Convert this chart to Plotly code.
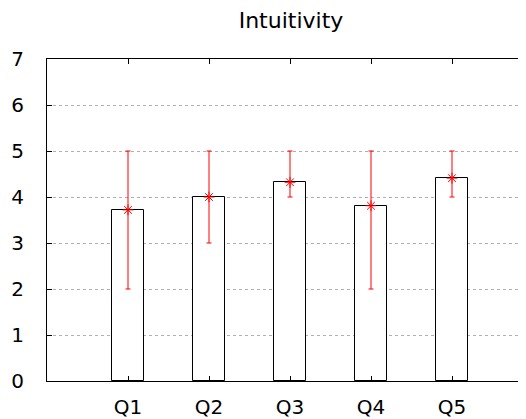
import plotly.graph_objects as go

categories = ["Q1", "Q2", "Q3", "Q4", "Q5"]
positions = [1, 2, 3, 4, 5]
means = [3.72, 4.0, 4.32, 3.81, 4.41]
mins = [2, 3, 4, 2, 4]
maxs = [5, 5, 5, 5, 5]

err_plus = [mx - m for mx, m in zip(maxs, means)]
err_minus = [m - mn for m, mn in zip(means, mins)]

FONT = "DejaVu Sans"
OFF = 8  # default body margin of the page
W, H = 526, 419 - OFF
L = 47 - OFF

fig = go.Figure()
fig.add_trace(go.Bar(
    x=positions, y=means, width=0.4,
    marker=dict(color="white", line=dict(color="black", width=1)),
    showlegend=False, hoverinfo="skip",
))
fig.add_trace(go.Scatter(
    x=positions, y=means, mode="markers",
    marker=dict(symbol="asterisk-open", size=9, color="red", line=dict(color="red", width=1)),
    error_y=dict(type="data", symmetric=False, array=err_plus, arrayminus=err_minus,
                 color="red", thickness=1, width=2.5),
    showlegend=False,
))

fig.update_layout(
    width=W, height=H,
    margin=dict(l=L, r=0, t=59 - OFF, b=H - (381 - OFF), autoexpand=False),
    paper_bgcolor="white", plot_bgcolor="white",
    font=dict(family=FONT, size=20, color="black"),
    title=dict(text="Intuitivity", x=(291 - OFF) / W, xanchor="center",
               y=1 - (20 - OFF) / H, yanchor="middle", font=dict(family=FONT, size=22)),
    bargap=0,
)
fig.update_xaxes(
    range=[0, (W - L) / 81], tickvals=positions, ticktext=categories,
    showline=True, linecolor="black", linewidth=1, mirror="ticks",
    ticks="inside", ticklen=5, tickcolor="black", automargin=False,
    showgrid=False, zeroline=False, ticklabelstandoff=8,
)
fig.update_yaxes(
    range=[0, 7], tickvals=[0, 1, 2, 3, 4, 5, 6, 7],
    showline=True, linecolor="black", linewidth=1, mirror=False,
    ticks="inside", ticklen=5, tickcolor="black", automargin=False,
    showgrid=True, gridcolor="#b0b0b0", griddash="dot", gridwidth=1,
    zeroline=False, ticklabelstandoff=18,
)

fig.write_html("out.html")
